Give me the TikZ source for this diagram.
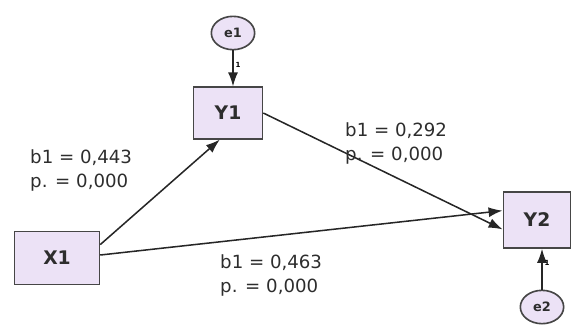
\documentclass[tikz,border=0pt]{standalone}
\usepackage{fontspec}
\setmainfont{DejaVu Sans}
\usepackage{tikz}
\usetikzlibrary{arrows.meta, shapes.geometric}
\definecolor{boxfill}{RGB}{236, 226, 246}
\definecolor{edgegray}{RGB}{70, 70, 70}
\definecolor{labeltext}{RGB}{45, 45, 45}

\begin{document}
\begin{tikzpicture}[x=0.03cm, y=-0.03cm,
    var/.style={rectangle, draw=edgegray, line width=1.3pt, fill=boxfill, minimum width=2.07cm, minimum height=1.55cm, text=labeltext, font=\fontsize{16}{18}\selectfont\bfseries},
    err/.style={ellipse, draw=edgegray, line width=1.4pt, fill=boxfill, minimum width=1.3cm, minimum height=1cm, inner sep=0pt, text=labeltext, font=\fontsize{11}{13}\selectfont\bfseries},
    causal/.style={-{Latex[length=4.2mm, width=3mm]}, line width=1.3pt, draw=black!85},
    coef/.style={align=left, anchor=north west, inner sep=0pt, text=labeltext, font=\fontsize{15.5}{20.5}\selectfont},
    one/.style={font=\fontsize{6}{7}\selectfont\bfseries, inner sep=1.5pt}]
  \useasboundingbox (0,0) rectangle (571,325);
  % variables
  \node[var, minimum width=2.55cm, minimum height=1.6cm] (X1) at (57,258) {X1};
  \node[var] (Y1) at (228,113) {Y1};
  \node[var, minimum width=2.02cm, minimum height=1.68cm] (Y2) at (537,220) {Y2};
  % error terms
  \node[err] (e1) at (233,33) {e1};
  \node[err] (e2) at (542,307) {e2};
  % paths
  \draw[causal] (X1.north east) ++(0,14) coordinate (x1a) -- ([xshift=-7]Y1.south);
  \draw[causal] (X1.east) ++(0,-3) coordinate (x1b) -- ([yshift=8]Y2.west);
  \draw[causal] (Y1.east) -- ([yshift=-8]Y2.west);
  \draw[causal] (e1) -- node[one, right, pos=0.4] {1} (e1 |- Y1.north);
  \draw[causal] (e2) -- node[one, right, pos=0.65] {1} (e2 |- Y2.south);
  % coefficients
  \node[coef] (c1) at (30,149) {b1 = 0,443\\p. = 0,000};
  \node[coef] (c2) at (345,122) {b1 = 0,292\\p. = 0,000};
  \node[coef] (c3) at (220,254) {b1 = 0,463\\p. = 0,000};
\end{tikzpicture}
\end{document}
